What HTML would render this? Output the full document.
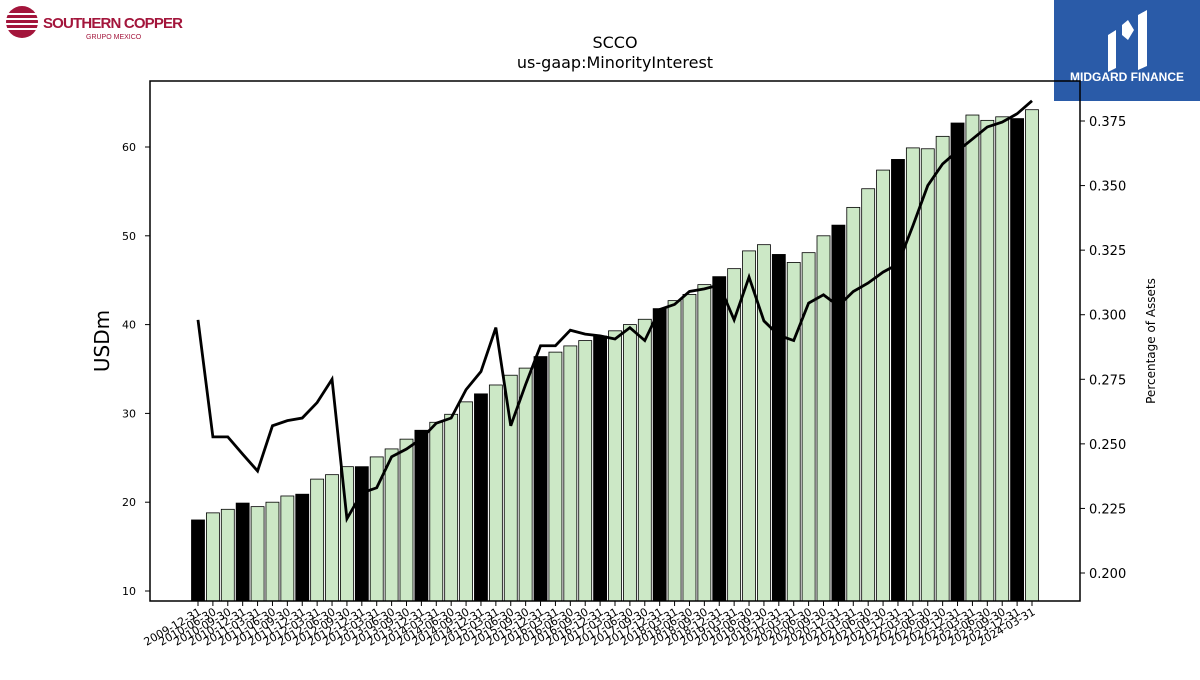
<!DOCTYPE html>
<html><head><meta charset="utf-8"><style>
body{margin:0;background:#fff;width:1200px;height:675px;overflow:hidden;font-family:"Liberation Sans","DejaVu Sans",sans-serif;}
</style></head><body>
<svg id="chart" width="1200" height="675" xmlns="http://www.w3.org/2000/svg" font-family="DejaVu Sans, Liberation Sans, sans-serif">
<g>
<circle cx="22" cy="22" r="16" fill="#a3153b"/>
<path d="M6 14 H40 M6 19 H40 M6 24 H40 M6 29 H40" stroke="#fff" stroke-width="2"/>
<text x="43" y="28" font-size="15" font-weight="bold" fill="#a3153b" font-family="Liberation Sans, sans-serif" textLength="140">SOUTHERN COPPER</text>
<text x="86" y="39" font-size="7" fill="#a3153b" font-family="Liberation Sans, sans-serif">GRUPO MEXICO</text>
</g>
<g>
<rect x="1054" y="0" width="146" height="101" fill="#2a5ba8"/>
<path d="M1108 35 L1116 30 L1116 68 L1108 72 Z M1122 25 L1128 20 L1134 30 L1128 40 L1122 35 Z M1138 15 L1147 10 L1147 66 L1138 70 Z" fill="#fff"/>
<text x="1127" y="81" font-size="12" font-weight="bold" fill="#fff" text-anchor="middle" font-family="Liberation Sans, sans-serif">MIDGARD FINANCE</text>
</g>
<text x="615" y="48" font-size="16" text-anchor="middle">SCCO</text>
<text x="615" y="68" font-size="16" text-anchor="middle">us-gaap:MinorityInterest</text>
<g id="bars"></g>
<g id="line"></g>
<rect x="150" y="81" width="930" height="520" fill="none" stroke="#000" stroke-width="1.5"/>
<g id="yleft"></g><g id="yright"></g><g id="xaxis"></g>
<text x="0" y="0" font-size="20" text-anchor="middle" transform="translate(109,341) rotate(-90)">USDm</text>
<text x="0" y="0" font-size="12" text-anchor="middle" transform="translate(1155,341) rotate(-90)">Percentage of Assets</text>
</svg>
<script>
const dates=["2009-12-31"];
(function(){for(let y=2010;y<=2024;y++)for(const q of["03-31","06-30","09-30","12-31"]){const d=y+"-"+q;if(d>="2010-06-30"&&d<="2024-03-31")dates.push(d);}})();
const values=[18.0,18.8,19.2,19.9,19.5,20.0,20.7,20.9,22.6,23.1,24.0,24.0,25.1,26.0,27.1,28.1,29.0,29.9,31.3,32.2,33.2,34.3,35.1,36.4,36.9,37.6,38.2,38.7,39.3,40.0,40.6,41.8,42.7,43.4,44.5,45.4,46.3,48.3,49.0,47.9,47.0,48.1,50.0,51.2,53.2,55.3,57.4,58.6,59.9,59.8,61.2,62.7,63.6,63.0,63.4,63.2,64.2];
const pct=[0.298,0.2527,0.2527,0.246,0.2395,0.257,0.259,0.260,0.266,0.275,0.221,0.231,0.233,0.245,0.248,0.252,0.258,0.260,0.271,0.278,0.295,0.257,0.273,0.288,0.288,0.294,0.2925,0.2918,0.2906,0.295,0.290,0.302,0.304,0.309,0.310,0.3115,0.298,0.3146,0.2976,0.292,0.290,0.3045,0.3077,0.3034,0.309,0.3123,0.3165,0.3196,0.3344,0.350,0.3584,0.3634,0.368,0.3727,0.3746,0.3778,0.3828];
const leftTicks=[10,20,30,40,50,60];
const rightTicks=[0.200,0.225,0.250,0.275,0.300,0.325,0.350,0.375];
const NS="http://www.w3.org/2000/svg";
const x=i=>198+i*(1032-198)/(dates.length-1);
const yL=v=>591-(v-10)*8.88;
const yR=v=>573-(v-0.2)/0.025*64.57;
function mk(tag,attrs,parent){const e=document.createElementNS(NS,tag);for(const k in attrs)e.setAttribute(k,attrs[k]);parent.appendChild(e);return e;}
const bars=document.getElementById('bars');
values.forEach((v,i)=>{const black=dates[i].endsWith("12-31");
const r=mk('rect',{x:x(i)-6.5,y:yL(v),width:13,height:601-yL(v),fill:black?'#000':'#cce8c6',stroke:'#000','stroke-width':0.8},bars);

});
const lg=document.getElementById('line');
const p=mk('polyline',{points:pct.map((v,i)=>x(i)+','+yR(v)).join(' '),fill:'none',stroke:'#000','stroke-width':2.8},lg);


const yl=document.getElementById('yleft');
leftTicks.forEach(t=>{mk('line',{x1:145,x2:150,y1:yL(t),y2:yL(t),stroke:'#000'},yl);
const tx=mk('text',{x:136,y:yL(t)+4,'font-size':11,'text-anchor':'end'},yl);tx.textContent=t;

});
const yr=document.getElementById('yright');
rightTicks.forEach(t=>{mk('line',{x1:1080,x2:1085,y1:yR(t),y2:yR(t),stroke:'#000'},yr);
const tx=mk('text',{x:1089,y:yR(t)+5,'font-size':13},yr);tx.textContent=t.toFixed(3);

});
const xa=document.getElementById('xaxis');
dates.forEach((d,i)=>{mk('line',{x1:x(i),x2:x(i),y1:601,y2:606,stroke:'#000'},xa);
const tx=mk('text',{x:0,y:0,'font-size':11,'text-anchor':'end',transform:`translate(${x(i)+4},${614}) rotate(-30)`},xa);tx.textContent=d;

});
</script>
</body></html>
